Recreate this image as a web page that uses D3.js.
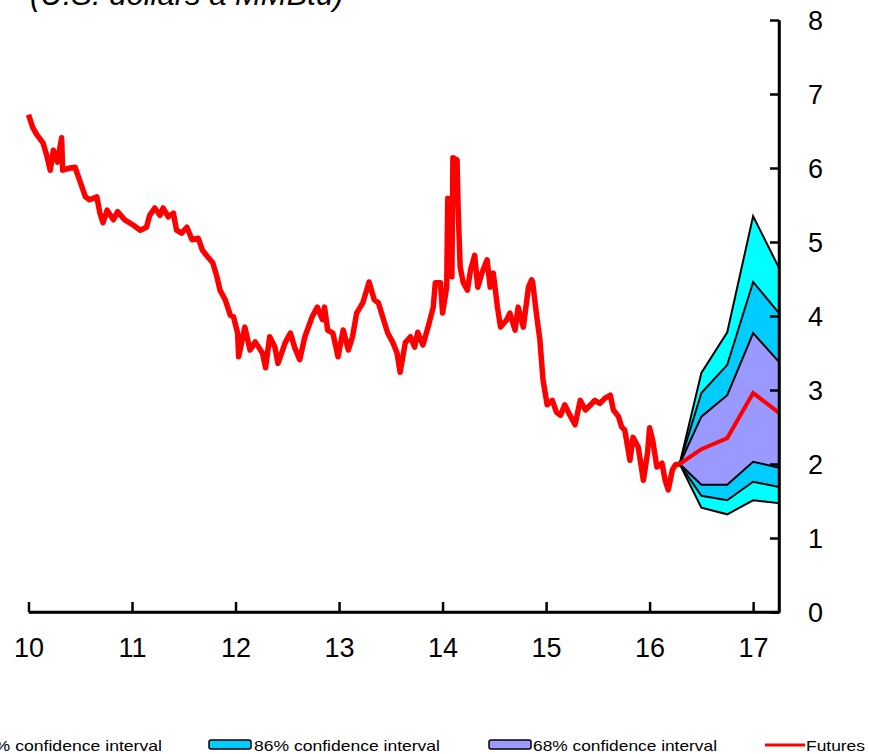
<!DOCTYPE html>
<html>
<head>
<meta charset="utf-8">
<script src="https://cdn.jsdelivr.net/npm/d3@7"></script>
<style>
  html, body { margin: 0; padding: 0; background: #fff; }
  svg { display: block; }
</style>
</head>
<body>
<script>
// ---------------- DATA ----------------
const histYears = [
  2010.00,2010.04,2010.08,2010.14,2010.18,2010.21,2010.24,2010.28,2010.32,2010.33,
  2010.40,2010.45,2010.50,2010.55,2010.59,2010.66,2010.69,2010.72,2010.76,2010.82,
  2010.86,2010.93,2011.01,2011.08,2011.14,2011.17,2011.22,2011.27,2011.30,2011.35,
  2011.40,2011.43,2011.48,2011.53,2011.58,2011.64,2011.68,2011.73,2011.78,2011.82,
  2011.85,2011.90,2011.95,2011.98,2012.02,2012.03,2012.09,2012.14,2012.19,2012.26,
  2012.29,2012.33,2012.38,2012.41,2012.48,2012.53,2012.57,2012.62,2012.67,2012.74,
  2012.79,2012.84,2012.86,2012.89,2012.94,2012.99,2013.04,2013.09,2013.13,2013.17,
  2013.23,2013.29,2013.34,2013.38,2013.43,2013.47,2013.52,2013.56,2013.59,2013.64,
  2013.69,2013.73,2013.76,2013.81,2013.86,2013.91,2013.93,2013.98,2014.00,2014.04,
  2014.05,2014.07,2014.09,2014.10,2014.14,2014.15,2014.17,2014.20,2014.24,2014.27,
  2014.31,2014.34,2014.38,2014.43,2014.46,2014.49,2014.53,2014.56,2014.62,2014.65,
  2014.70,2014.73,2014.78,2014.83,2014.86,2014.87,2014.91,2014.94,2014.97,2015.01,
  2015.06,2015.10,2015.14,2015.18,2015.23,2015.28,2015.33,2015.38,2015.43,2015.47,
  2015.52,2015.57,2015.62,2015.65,2015.70,2015.73,2015.76,2015.81,2015.84,2015.89,
  2015.94,2015.98,2016.00,2016.03,2016.07,2016.12,2016.15,2016.18,2016.22,2016.25,
  2016.29
];
const histValues = [
  6.72,6.55,6.45,6.34,6.15,5.97,6.24,6.08,6.41,5.97,
  6.00,6.01,5.81,5.61,5.57,5.61,5.39,5.26,5.43,5.30,
  5.41,5.30,5.23,5.16,5.20,5.36,5.46,5.36,5.46,5.34,
  5.39,5.16,5.12,5.20,5.03,5.05,4.89,4.80,4.72,4.53,
  4.35,4.22,4.01,3.99,3.77,3.45,3.85,3.54,3.65,3.50,
  3.30,3.72,3.58,3.36,3.64,3.77,3.58,3.41,3.72,3.99,
  4.12,3.95,4.12,3.81,3.77,3.45,3.81,3.54,3.72,4.04,
  4.18,4.46,4.22,4.18,3.95,3.77,3.64,3.50,3.24,3.64,
  3.72,3.58,3.78,3.61,3.85,4.12,4.45,4.45,4.04,4.39,
  5.59,5.57,4.53,6.14,6.11,5.47,4.66,4.45,4.35,4.62,
  4.82,4.39,4.58,4.76,4.39,4.58,4.12,3.85,3.95,4.04,
  3.81,4.12,3.85,4.39,4.49,4.46,3.99,3.68,3.14,2.80,
  2.86,2.70,2.66,2.80,2.66,2.53,2.86,2.73,2.80,2.86,
  2.82,2.89,2.93,2.73,2.64,2.50,2.46,2.05,2.36,2.23,
  1.78,2.15,2.49,2.32,1.96,2.01,1.78,1.65,1.92,1.99,
  2.00
];

const fcYears  = [2016.29, 2016.50, 2016.75, 2017.00, 2017.25];
const futures  = [2.00, 2.20, 2.35, 2.96, 2.69];
const upper95  = [2.00, 3.23, 3.78, 5.35, 4.65];
const upper86  = [2.00, 2.96, 3.34, 4.46, 4.04];
const upper68  = [2.00, 2.64, 2.93, 3.77, 3.38];
const lower68  = [2.00, 1.72, 1.72, 2.03, 1.95];
const lower86  = [2.00, 1.57, 1.51, 1.76, 1.69];
const lower95  = [2.00, 1.41, 1.32, 1.51, 1.47];

const xTickValues = [2010, 2011, 2012, 2013, 2014, 2015, 2016, 2017];
const yTickValues = [0, 1, 2, 3, 4, 5, 6, 7, 8];
const titleText = "(U.S. dollars a MMBtu)";
const legendLabels = ["95% confidence interval", "86% confidence interval", "68% confidence interval", "Futures"];

// ---------------- CHART ----------------
const W = 869, H = 754;
const svg = d3.select("body").append("svg").attr("width", W).attr("height", H);

const x = d3.scaleLinear().domain([2010, 2017.25]).range([28.5, 779]);
const y = d3.scaleLinear().domain([0, 8]).range([612, 20]);

// title (partly cut off at top)
svg.append("text")
  .attr("x", 30).attr("y", 5)
  .attr("font-family", "'Liberation Sans', Arial, sans-serif")
  .attr("font-style", "italic")
  .attr("font-size", 31)
  .attr("fill", "#000")
  .text(titleText);

const fc = fcYears.map((yr, i) => ({yr, fut: futures[i], u95: upper95[i], u86: upper86[i], u68: upper68[i], l68: lower68[i], l86: lower86[i], l95: lower95[i]}));

const band = (hi, lo) => d3.area().x(d => x(d.yr)).y0(d => y(d[lo])).y1(d => y(d[hi]));
const bands = [
  {hi: "u95", lo: "l95", color: "#00FFFF"},
  {hi: "u86", lo: "l86", color: "#00CCFF"},
  {hi: "u68", lo: "l68", color: "#9999FF"}
];
bands.forEach(b => {
  svg.append("path").datum(fc)
    .attr("d", band(b.hi, b.lo))
    .attr("fill", b.color)
    .attr("stroke", "#000")
    .attr("stroke-width", 2)
    .attr("stroke-linejoin", "miter");
});

// history line
const hist = histYears.map((yr, i) => ({yr, v: histValues[i]}));
svg.append("path").datum(hist)
  .attr("d", d3.line().x(d => x(d.yr)).y(d => y(d.v)))
  .attr("fill", "none")
  .attr("stroke", "#FF0000")
  .attr("stroke-width", 5.5)
  .attr("stroke-linejoin", "round");

// futures line
svg.append("path").datum(fc)
  .attr("d", d3.line().x(d => x(d.yr)).y(d => y(d.fut)))
  .attr("fill", "none")
  .attr("stroke", "#FF0000")
  .attr("stroke-width", 4)
  .attr("stroke-linejoin", "miter");

// axes
const axisFont = "'Liberation Sans', Arial, sans-serif";
const xAxis = svg.append("g").attr("transform", `translate(0,${y(0)})`)
  .call(d3.axisBottom(x).tickValues(xTickValues).tickSizeInner(-10).tickSizeOuter(0).tickPadding(26)
    .tickFormat(d => String(d % 100)));
const yAxis = svg.append("g").attr("transform", `translate(${x(2017.25)},0)`)
  .call(d3.axisRight(y).tickValues(yTickValues).tickSizeInner(-9).tickSizeOuter(0).tickPadding(29)
    .tickFormat(d3.format("d")));
[xAxis, yAxis].forEach(g => {
  g.select(".domain").attr("stroke", "#000").attr("stroke-width", 2.5);
  g.selectAll(".tick line").attr("stroke", "#000").attr("stroke-width", 2.5);
  g.selectAll(".tick text").attr("font-family", axisFont).attr("font-size", 27).attr("fill", "#000");
});
yAxis.selectAll(".tick text").attr("dy", "0.36em");
svg.append("path")
  .attr("d", `M${x(2010)},${y(0)}H${x(2017.25)}V${y(8)}`)
  .attr("fill", "none").attr("stroke", "#000").attr("stroke-width", 2.5);

// legend
const legFont = "'Liberation Sans Narrow', 'Arial Narrow', 'Liberation Sans', Arial, sans-serif";
const legY = 751;
const legendItems = [
  {label: legendLabels[0], type: "rect", color: "#00FFFF", sx: -70, tx: -25, tw: 187},
  {label: legendLabels[1], type: "rect", color: "#00CCFF", sx: 209, tx: 254, tw: 186},
  {label: legendLabels[2], type: "rect", color: "#9999FF", sx: 489, tx: 533, tw: 184},
  {label: legendLabels[3], type: "line", color: "#FF0000", sx: 765, tx: 806, tw: 59}
];
legendItems.forEach(it => {
  if (it.type === "rect") {
    svg.append("rect").attr("x", it.sx).attr("y", 740).attr("width", 42).attr("height", 9)
      .attr("rx", 2).attr("fill", it.color).attr("stroke", "#000").attr("stroke-width", 1.5);
  } else {
    svg.append("line").attr("x1", it.sx).attr("x2", it.sx + 40).attr("y1", 745).attr("y2", 745)
      .attr("stroke", it.color).attr("stroke-width", 3);
  }
  svg.append("text").attr("x", it.tx).attr("y", legY)
    .attr("font-family", legFont).attr("font-size", 15).attr("fill", "#000")
    .attr("textLength", it.tw).attr("lengthAdjust", "spacingAndGlyphs")
    .text(it.label);
});
</script>
</body>
</html>
